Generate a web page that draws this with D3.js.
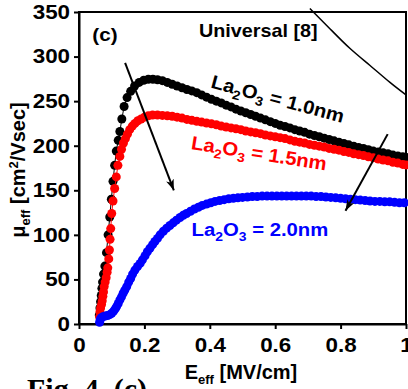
<!DOCTYPE html>
<html>
<head>
<meta charset="utf-8">
<script src="https://cdn.jsdelivr.net/npm/d3@7"></script>
<style>
  body { margin: 0; background: #fff; }
  svg { display: block; }
  text { font-family: "Liberation Sans", Arial, sans-serif; font-weight: bold; }
</style>
</head>
<body>
<div id="chart"></div>
<script>
// La2O3 = 1.0nm (black)
const e10 = [0.062,0.064,0.066,0.068,0.070,0.072,0.075,0.079,0.084,0.089,0.094,0.099,0.104,0.109,0.114,0.120,0.125,0.131,0.138,0.147,0.158,0.170,0.184,0.198,0.212,0.226,0.240,
  0.255,0.270,0.285,0.300,0.315,0.330,0.345,0.360,0.375,0.390,0.405,0.420,0.435,0.450,0.465,0.480,0.495,0.510,0.525,0.540,0.555,0.570,0.585,0.600,
  0.615,0.630,0.645,0.660,0.675,0.690,0.705,0.720,0.735,0.750,0.765,0.780,0.795,0.810,0.825,0.840,0.855,0.870,0.885,0.900,0.915,0.930,0.945,0.960,0.975,0.990,1.000];
const mu10 = [10,18,25,32,40,47,56,65,80,100,120,140,160,178,194,206,216,230,244,254,261,267,271,273.5,274.5,274.5,274,
  273,271,269,267,265,263,261.5,259.5,257,254.5,252,250,248,245.5,243.5,241,239,237,235,233,231,229,227,225,
  223,221.5,220,218,216.5,215,213,211.5,210,208.5,207,205.5,204,202.5,201,199.5,198,197,195.5,194,193,192,191,189.5,188.5,187.5,187];

// La2O3 = 1.5nm (red)
const e15 = [0.063,0.064,0.066,0.069,0.071,0.073,0.075,0.077,0.080,0.083,0.086,0.088,0.091,0.093,0.095,0.097,0.100,0.104,0.109,0.114,0.119,0.125,0.130,0.136,0.142,0.148,0.155,0.163,0.171,0.180,0.190,0.200,0.212,0.225,0.240,
  0.255,0.270,0.285,0.300,0.315,0.330,0.345,0.360,0.375,0.390,0.405,0.420,0.435,0.450,0.465,0.480,0.495,0.510,0.525,0.540,0.555,0.570,0.585,0.600,
  0.615,0.630,0.645,0.660,0.675,0.690,0.705,0.720,0.735,0.750,0.765,0.780,0.795,0.810,0.825,0.840,0.855,0.870,0.885,0.900,0.915,0.930,0.945,0.960,0.975,0.990,1.000];
const mu15 = [8,13.5,18,22,26,31,36,42,47,52,58,63,73,83,95,107,124,138,152,165,178,188,196,203,208,213,218,222,225,228,230,232,233.5,234.5,234.5,
  234,233.5,233,232,231,229.5,228.5,227.5,226.5,225.5,224.5,223.5,222,221,220,219,218,216.5,215.5,214.5,213.5,212,211,210,
  209,208,206.5,205,204,203,201.5,200.5,199.5,198.5,197,196,195,193.5,192.5,191,190,189,187.5,186.5,185,184,183,181.5,180.5,179,178.5];

// La2O3 = 2.0nm (blue)
const e20 = [0.063,0.065,0.068,0.073,0.080,0.087,0.094,0.100,0.106,0.111,0.115,0.120,0.125,0.130,0.135,0.140,0.146,0.152,0.158,0.164,0.171,0.179,0.187,0.194,0.202,0.209,0.217,0.225,0.232,0.240,0.248,
  0.258,0.268,0.278,0.288,0.298,0.309,0.319,0.329,0.341,0.353,0.365,0.377,0.390,0.403,0.416,0.430,0.444,0.458,0.472,0.486,0.500,0.515,0.530,0.545,0.560,0.575,0.590,0.605,0.620,
  0.635,0.650,0.665,0.680,0.695,0.710,0.725,0.740,0.755,0.770,0.785,0.800,0.815,0.830,0.845,0.860,0.875,0.890,0.905,0.920,0.935,0.950,0.965,0.980,0.995];
const mu20 = [2,5,7,8,9,9.5,10.5,12,14.5,17,19.5,23,27,30.5,34.5,38,42,47,51,56,60.5,64.5,68,72,76.5,81,85,89,92.5,96,100,
  104,107.5,110.5,113.5,116.5,119.5,122,124,126.5,129,131,133,134.5,136,137.5,138.5,139.5,140.5,141,141.5,142,142.5,143,143,143.5,143.5,143.5,143.5,143.5,
  143.5,143.5,143.5,143.5,143.5,143.5,143,143,142.5,142,141.5,141,140.5,140,139.5,139,138.5,138,137.5,137.5,137,137,136.5,136,136];

// universal mobility curve [8]
const univE = [0.706,0.768,0.829,0.890,0.951,1.000];
const univMu = [354,331,309,290,271,257];

const xTicks = [0, 0.2, 0.4, 0.6, 0.8, 1];
const yTicks = [0, 50, 100, 150, 200, 250, 300, 350];

// arrows (data units): [E0, mu0, E1, mu1]
const arrows = [[0.141, 293, 0.290, 150], [0.944, 213, 0.815, 127]];

const width = 408, height = 389;
const margin = { top: 12, right: 2, bottom: 65, left: 79 };

const svg = d3.select('#chart').append('svg')
  .attr('width', width)
  .attr('height', height);

const x = d3.scaleLinear().domain([0, 1]).range([margin.left, width - margin.right]);
const y = d3.scaleLinear().domain([0, 350]).range([height - margin.bottom, margin.top]);

// frame
svg.append('rect')
  .attr('x', x(0)).attr('y', y(350))
  .attr('width', x(1) - x(0)).attr('height', y(0) - y(350))
  .attr('fill', 'none').attr('stroke', '#000').attr('stroke-width', 2);

// Y-axis
const yAxis = svg.append('g')
  .attr('transform', `translate(${x(0)},0)`)
  .call(d3.axisLeft(y).tickValues(yTicks).tickSize(5).tickSizeOuter(0).tickPadding(3));
yAxis.select('.domain').attr('stroke-width', 2);
yAxis.selectAll('line').attr('stroke-width', 2);
yAxis.selectAll('text')
  .attr('font-size', 20).attr('fill', '#000')
  .attr('transform', 'scale(1.12,1)');

// X-axis
const xAxis = svg.append('g')
  .attr('transform', `translate(0,${y(0)})`)
  .call(d3.axisBottom(x).tickValues(xTicks).tickSize(5).tickSizeOuter(0).tickPadding(9)
    .tickFormat(d => (d === 0 || d === 1) ? String(d) : d.toFixed(1)));
xAxis.select('.domain').attr('stroke-width', 2);
xAxis.selectAll('line').attr('stroke-width', 2);
xAxis.selectAll('text')
  .attr('font-size', 20).attr('fill', '#000')
  .attr('transform', 'scale(1.12,1)');

// universal curve
svg.append('path')
  .datum(univE.map((e, i) => [e, univMu[i]]))
  .attr('fill', 'none').attr('stroke', '#000').attr('stroke-width', 1.5)
  .attr('d', d3.line().x(d => x(d[0])).y(d => y(d[1])).curve(d3.curveNatural));

// data series
const series = [
  { e: e10, mu: mu10, color: '#000000' },
  { e: e15, mu: mu15, color: '#ff0000' },
  { e: e20, mu: mu20, color: '#0000ff' }
];
const line = d3.line().x(d => x(d[0])).y(d => y(d[1]));
series.forEach(s => {
  const pts = s.e.map((e, i) => [e, s.mu[i]]);
  const g = svg.append('g');
  g.append('path').datum(pts)
    .attr('fill', 'none').attr('stroke', s.color).attr('stroke-width', 1)
    .attr('d', line);
  g.selectAll('circle').data(pts).enter().append('circle')
    .attr('cx', d => x(d[0])).attr('cy', d => y(d[1]))
    .attr('r', 4.5).attr('fill', s.color);
});

// arrows
svg.append('defs').append('marker')
  .attr('id', 'head').attr('markerUnits', 'userSpaceOnUse')
  .attr('markerWidth', 12).attr('markerHeight', 10)
  .attr('refX', 11).attr('refY', 4).attr('orient', 'auto')
  .append('path').attr('d', 'M0,0 L11,4 L0,8 L3,4 Z').attr('fill', '#000');
arrows.forEach(a => {
  svg.append('line')
    .attr('x1', x(a[0])).attr('y1', y(a[1]))
    .attr('x2', x(a[2])).attr('y2', y(a[3]))
    .attr('stroke', '#000').attr('stroke-width', 2)
    .attr('marker-end', 'url(#head)');
});

// annotations
svg.append('text').attr('x', 92).attr('y', 41).attr('font-size', 19)
  .attr('transform', 'translate(-8,0) scale(1.09,1)').text('(c)');
svg.append('text').attr('x', 258).attr('y', 37).attr('font-size', 19)
  .attr('text-anchor', 'middle').attr('transform', 'translate(-10,0) scale(1.04,1)').text('Universal [8]');

function oxideLabel(tx, ty, angle, color, thick) {
  const t = svg.append('text')
    .attr('transform', `translate(${tx},${ty}) rotate(${angle}) scale(1.07,1)`)
    .attr('font-size', 19).attr('fill', color);
  t.append('tspan').text('La');
  t.append('tspan').attr('font-size', 13).attr('dy', 5).text('2');
  t.append('tspan').attr('dy', -5).text('O');
  t.append('tspan').attr('font-size', 13).attr('dy', 5).text('3');
  t.append('tspan').attr('dy', -5).text(' = ' + thick);
}
oxideLabel(210, 87.5, 15, '#000000', '1.0nm');
oxideLabel(190.5, 149, 9, '#ff0000', '1.5nm');
oxideLabel(191.5, 236, 0, '#0000ff', '2.0nm');

// axis titles
const yl = svg.append('text')
  .attr('transform', 'translate(25,170) rotate(-90)')
  .attr('text-anchor', 'middle').attr('font-size', 20);
yl.append('tspan').text('\u03bc');
yl.append('tspan').attr('font-size', 13).attr('dy', 5).text('eff');
yl.append('tspan').attr('dy', -5).text(' [cm');
yl.append('tspan').attr('font-size', 13).attr('dy', -7).text('2');
yl.append('tspan').attr('dy', 7).text('/Vsec]');

const xl = svg.append('text')
  .attr('x', 241).attr('y', 379)
  .attr('text-anchor', 'middle').attr('font-size', 20);
xl.append('tspan').text('E');
xl.append('tspan').attr('font-size', 13).attr('dy', 5).text('eff');
xl.append('tspan').attr('dy', -5).text(' [MV/cm]');

svg.append('text')
  .attr('x', 27).attr('y', 399)
  .style('font-family', '"Liberation Serif", "Times New Roman", serif')
  .attr('font-size', 30).text('Fig. 4. (c)');
</script>
</body>
</html>
